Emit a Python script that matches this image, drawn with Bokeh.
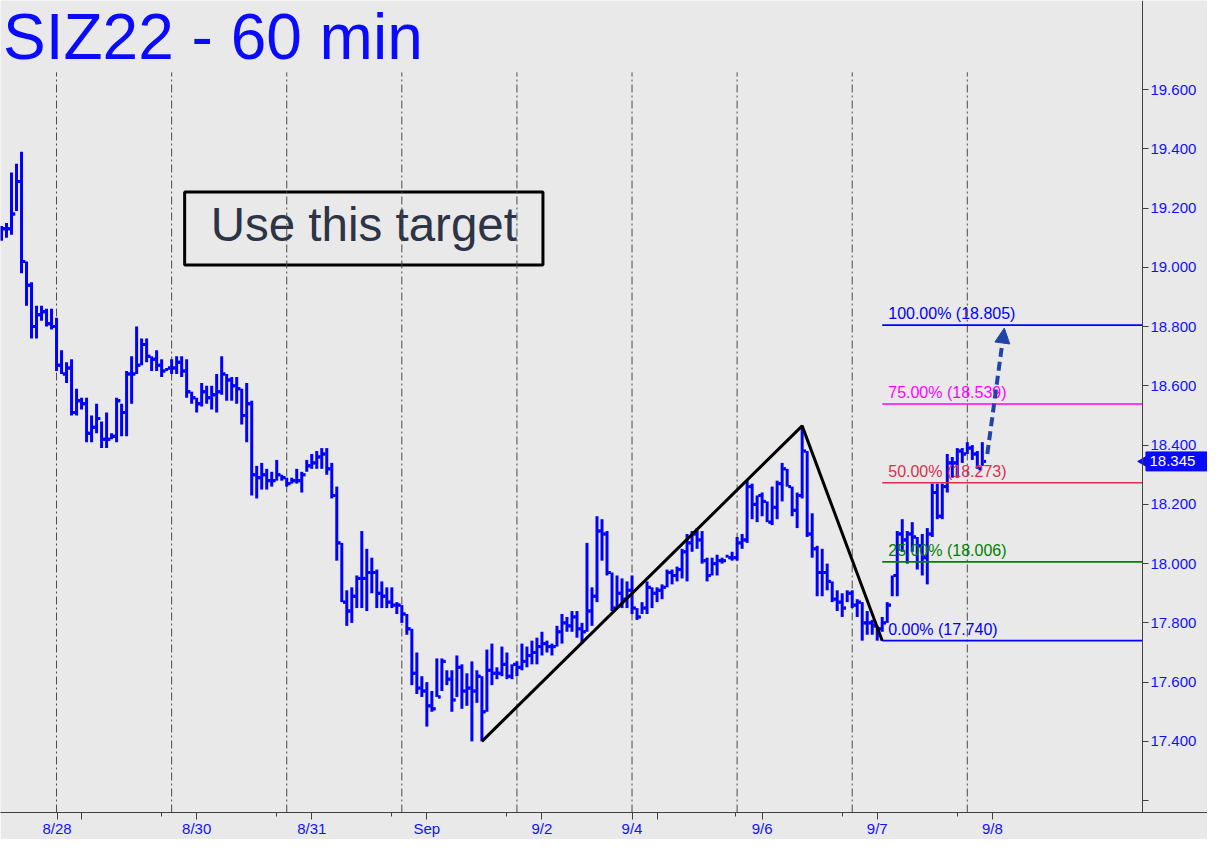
import math
from bokeh.plotting import figure
from bokeh.models import (Range1d, FixedTicker, Label, Arrow, NormalHead, BoxAnnotation,
                          NumeralTickFormatter, LinearAxis)
from bokeh.core.properties import value
from bokeh.embed import file_html
from bokeh.resources import INLINE

# ---------------- data ----------------
highs = [19.14, 19.15, 19.32, 19.35, 19.39, 19.02, 18.95, 18.87, 18.87, 18.86,
         18.86, 18.83, 18.72, 18.68, 18.69, 18.59, 18.56, 18.56, 18.50, 18.54,
         18.48, 18.51, 18.44, 18.56, 18.54, 18.65, 18.70, 18.80, 18.76, 18.76,
         18.70, 18.72, 18.69, 18.66, 18.69, 18.70, 18.70, 18.69, 18.58, 18.56,
         18.61, 18.60, 18.60, 18.64, 18.70, 18.64, 18.63, 18.63, 18.59, 18.61,
         18.55, 18.33, 18.34, 18.32, 18.31, 18.35, 18.30, 18.29, 18.29, 18.32,
         18.31, 18.35, 18.37, 18.38, 18.39, 18.39, 18.34, 18.26, 18.07, 17.91,
         17.92, 17.96, 18.11, 18.05, 18.02, 17.98, 17.94, 17.92, 17.92, 17.87,
         17.86, 17.83, 17.78, 17.70, 17.62, 17.60, 17.57, 17.68, 17.68, 17.64,
         17.64, 17.69, 17.66, 17.63, 17.67, 17.64, 17.62, 17.71, 17.73, 17.65,
         17.72, 17.70, 17.66, 17.67, 17.73, 17.72, 17.74, 17.75, 17.77, 17.74,
         17.73, 17.79, 17.83, 17.82, 17.84, 17.84, 17.80, 18.07, 17.92, 18.16,
         18.15, 18.11, 17.97, 17.96, 17.95, 17.94, 17.96, 17.85, 17.87, 17.94,
         17.92, 17.92, 17.93, 17.98, 17.98, 17.99, 18.05, 18.10, 18.11, 18.12,
         18.11, 18.02, 18.02, 18.03, 18.02, 18.03, 18.04, 18.09, 18.10, 18.28,
         18.27, 18.23, 18.24, 18.21, 18.26, 18.28, 18.34, 18.32, 18.26, 18.24,
         18.46, 18.38, 18.17, 18.06, 18.05, 18.00, 17.94, 17.91, 17.90, 17.91,
         17.91, 17.88, 17.87, 17.84, 17.81, 17.79, 17.82, 17.87, 17.96, 18.11,
         18.15, 18.11, 18.14, 18.09, 18.10, 18.12, 18.27, 18.27, 18.27, 18.37,
         18.36, 18.39, 18.39, 18.41, 18.40, 18.38, 18.41]
lows = [19.09, 19.10, 19.11, 19.19, 18.98, 18.87, 18.76, 18.76, 18.82, 18.80,
        18.79, 18.65, 18.64, 18.61, 18.50, 18.50, 18.52, 18.41, 18.41, 18.44,
        18.39, 18.39, 18.42, 18.41, 18.43, 18.43, 18.54, 18.64, 18.67, 18.68,
        18.65, 18.65, 18.63, 18.65, 18.64, 18.64, 18.63, 18.56, 18.54, 18.51,
        18.53, 18.54, 18.52, 18.51, 18.57, 18.55, 18.55, 18.54, 18.47, 18.41,
        18.23, 18.22, 18.25, 18.25, 18.26, 18.28, 18.28, 18.26, 18.27, 18.27,
        18.24, 18.31, 18.32, 18.32, 18.32, 18.30, 18.22, 18.01, 17.87, 17.79,
        17.80, 17.85, 17.85, 17.84, 17.90, 17.85, 17.85, 17.85, 17.85, 17.83,
        17.80, 17.76, 17.59, 17.56, 17.55, 17.45, 17.50, 17.55, 17.57, 17.59,
        17.50, 17.55, 17.51, 17.52, 17.40, 17.53, 17.40, 17.50, 17.59, 17.61,
        17.62, 17.61, 17.61, 17.62, 17.64, 17.65, 17.66, 17.66, 17.69, 17.70,
        17.69, 17.72, 17.73, 17.77, 17.77, 17.75, 17.73, 17.77, 17.79, 17.87,
        18.01, 17.96, 17.84, 17.85, 17.85, 17.85, 17.83, 17.81, 17.83, 17.83,
        17.85, 17.87, 17.88, 17.92, 17.93, 17.94, 17.95, 17.94, 18.04, 18.05,
        18.00, 17.94, 17.96, 17.96, 18.00, 18.02, 18.01, 18.01, 18.05, 18.07,
        18.15, 18.14, 18.16, 18.14, 18.13, 18.15, 18.21, 18.26, 18.16, 18.12,
        18.22, 18.09, 18.02, 17.89, 17.89, 17.91, 17.87, 17.84, 17.82, 17.87,
        17.85, 17.82, 17.74, 17.76, 17.76, 17.74, 17.77, 17.80, 17.89, 17.89,
        18.04, 18.00, 18.04, 17.98, 17.96, 17.93, 18.09, 18.15, 18.15, 18.24,
        18.29, 18.29, 18.34, 18.37, 18.35, 18.32, 18.33]
closes = [19.13, 19.13, 19.18, 19.29, 19.02, 18.94, 18.80, 18.84, 18.85, 18.81,
          18.80, 18.67, 18.64, 18.66, 18.51, 18.55, 18.54, 18.44, 18.46, 18.49,
          18.42, 18.42, 18.43, 18.55, 18.51, 18.64, 18.64, 18.67, 18.74, 18.70,
          18.69, 18.67, 18.65, 18.66, 18.66, 18.68, 18.65, 18.58, 18.56, 18.54,
          18.58, 18.56, 18.57, 18.58, 18.64, 18.62, 18.60, 18.59, 18.50, 18.54,
          18.30, 18.29, 18.30, 18.28, 18.28, 18.30, 18.29, 18.27, 18.28, 18.28,
          18.30, 18.33, 18.34, 18.36, 18.37, 18.32, 18.23, 18.07, 17.87, 17.84,
          17.89, 17.95, 17.95, 17.97, 17.97, 17.90, 17.89, 17.87, 17.86, 17.86,
          17.83, 17.78, 17.63, 17.58, 17.57, 17.52, 17.51, 17.55, 17.67, 17.61,
          17.54, 17.65, 17.57, 17.58, 17.57, 17.62, 17.50, 17.64, 17.63, 17.63,
          17.66, 17.62, 17.66, 17.65, 17.67, 17.69, 17.70, 17.72, 17.73, 17.72,
          17.72, 17.77, 17.80, 17.79, 17.82, 17.78, 17.77, 17.84, 17.89, 18.11,
          18.10, 17.97, 17.85, 17.90, 17.88, 17.91, 17.85, 17.82, 17.85, 17.92,
          17.90, 17.91, 17.92, 17.97, 17.96, 17.98, 18.04, 18.07, 18.10, 18.08,
          18.01, 17.96, 18.00, 18.01, 18.01, 18.02, 18.02, 18.07, 18.08, 18.26,
          18.20, 18.23, 18.21, 18.14, 18.19, 18.27, 18.32, 18.26, 18.18, 18.23,
          18.38, 18.10, 18.05, 17.97, 17.97, 17.94, 17.88, 17.87, 17.85, 17.90,
          17.86, 17.87, 17.80, 17.80, 17.79, 17.78, 17.80, 17.86, 17.96, 18.10,
          18.08, 18.10, 18.09, 18.06, 18.02, 18.10, 18.24, 18.16, 18.26, 18.34,
          18.34, 18.38, 18.37, 18.39, 18.37, 18.32, 18.345]
opens = [closes[0]] + closes[:-1]
bar_index = list(range(len(closes)))

session_starts = [11, 34, 57, 80, 103, 126, 147, 170, 193]
date_ticks = [11.1, 16, 39, 62, 85, 108, 126, 131, 152, 175, 198]
date_labels = ["8/28", "", "8/30", "8/31", "Sep", "9/2", "9/4", "", "9/6", "9/7", "9/8"]
minor_date_ticks = [32, 55, 78, 101, 146.6, 168, 191]
price_ticks = [17.2, 17.4, 17.6, 17.8, 18.0, 18.2, 18.4, 18.6, 18.8, 19.0, 19.2, 19.4, 19.6]

zigzag_x = [96, 160, 176]
zigzag_y = [17.40, 18.465, 17.74]
fib_names = ["0.00%", "25.00%", "50.00%", "75.00%", "100.00%"]
fib_levels = [17.740, 18.006, 18.273, 18.539, 18.805]
fib_colors = ["#0000ff", "#008000", "#d8304e", "#ff00ff", "#0000ff"]
last_price = 18.345
arrow_start = (197, 18.37)
arrow_end = (200.4, 18.795)

# ---------------- styling / layout constants ----------------
BG = "#e9e9e9"
BAR = "#0000ff"
AXIS_TXT = "#1010ff"
MARK = "#0a0aff"
FONT = "Liberation Sans"

W, H = 1207, 839
BORDER_B = 25
AXIS_X = 228.0             # price axis sits here (bar-index units)

x_lo, x_hi = -0.2, 241.0
y_lo, y_hi = 17.16, 19.9007

p = figure(width=W, height=H, output_backend="svg", toolbar_location=None,
           x_range=Range1d(x_lo, x_hi), y_range=Range1d(y_lo, y_hi),
           y_axis_location=None, min_border_left=0, min_border_top=0,
           min_border_right=0, min_border_bottom=BORDER_B)
p.background_fill_color = BG
p.border_fill_color = BG
p.outline_line_color = None
p.xgrid.visible = False
p.ygrid.visible = False

# session separators
p.segment(x0=session_starts, x1=session_starts, y0=[y_lo] * len(session_starts),
          y1=[19.658] * len(session_starts), line_color="#4a4a4a", line_width=1,
          line_dash="8 3 2 3")

# "Use this target" box
p.add_layout(BoxAnnotation(left=36.6, right=108.2, bottom=19.008, top=19.254,
                           fill_color=None, fill_alpha=0, line_color="black",
                           line_alpha=1.0, line_width=3, level="underlay"))
p.add_layout(Label(x=41.8, y=19.054, text="Use this target", text_font=FONT,
                   text_font_size="47.5px", text_color="#2c3446",
                   text_baseline="bottom", level="underlay"))

# OHLC bars
p.segment(x0=bar_index, x1=bar_index, y0=lows, y1=highs, line_color=BAR, line_width=3)
p.segment(x0=[i - 0.75 for i in bar_index], x1=[i - 0.3 for i in bar_index], y0=opens, y1=opens,
          line_color=BAR, line_width=3)
p.segment(x0=[i + 0.3 for i in bar_index], x1=[i + 0.75 for i in bar_index], y0=closes, y1=closes,
          line_color=BAR, line_width=3)

# zigzag
p.line(zigzag_x, zigzag_y, line_color="black", line_width=3)

# fib levels
fib_start = zigzag_x[-1]
p.segment(x0=[fib_start] * 5, x1=[AXIS_X] * 5, y0=fib_levels, y1=fib_levels,
          line_color=fib_colors, line_width=1.6)
for name, lev, col in zip(fib_names, fib_levels, fib_colors):
    p.add_layout(Label(x=fib_start, y=lev + 0.01, x_offset=6, text=f"{name} ({lev:.3f})",
                       text_font=FONT, text_font_size="16px", text_color=col,
                       text_baseline="bottom"))

# projection arrow
ac = "#2244aa"
p.add_layout(Arrow(end=NormalHead(size=15, fill_color=ac, line_color=ac),
                   x_start=arrow_start[0], y_start=arrow_start[1],
                   x_end=arrow_end[0], y_end=arrow_end[1],
                   line_color=ac, line_width=4, line_dash="9 5"))

# title
p.add_layout(Label(x=0.3, y=19.6556, text="SIZ22 - 60 min", text_font=FONT,
                   text_font_size="64px", text_color="#0a0aff", text_baseline="bottom"))

# price axis on the right (fixed at AXIS_X so the area right of it stays drawable)
ya = LinearAxis(fixed_location=AXIS_X)
ya.ticker = FixedTicker(ticks=price_ticks)
ya.formatter = NumeralTickFormatter(format="0.000")
ya.major_label_overrides = {17.2: ""}
ya.axis_line_color = "#404040"
ya.major_tick_line_color = "#404040"
ya.major_tick_out = 6
ya.major_tick_in = 0
ya.minor_tick_line_color = None
ya.major_label_standoff = 2
ya.major_label_text_color = AXIS_TXT
ya.major_label_text_font = FONT
ya.major_label_text_font_size = "15px"
p.add_layout(ya, "right")

# last price marker: pointer + box + text
p.scatter(x=[AXIS_X + 0.55], y=[last_price], marker="triangle", size=13,
          angle=math.pi / 2, fill_color=MARK, line_color=MARK)
p.quad(left=[AXIS_X + 0.7], right=[x_hi], bottom=[last_price - 0.032],
       top=[last_price + 0.032], fill_color=MARK, line_color=MARK)
p.text(x=[AXIS_X + 1.4], y=[last_price], text=[f"{last_price:.3f}"], text_color="white",
       text_font=value(FONT), text_font_size="15px", text_baseline="middle")

# time axis
xa = p.xaxis[0]
xa.ticker = FixedTicker(ticks=date_ticks, minor_ticks=minor_date_ticks)
xa.major_label_overrides = {t: lab for t, lab in zip(date_ticks, date_labels)}
xa.axis_line_color = "#404040"
xa.major_tick_line_color = "#404040"
xa.minor_tick_line_color = "#404040"
xa.major_tick_out = 7
xa.major_tick_in = 0
xa.minor_tick_out = 4
xa.minor_tick_in = 0
xa.major_label_standoff = 0
xa.major_label_text_color = AXIS_TXT
xa.major_label_text_font = FONT
xa.major_label_text_font_size = "15px"

open("out.html", "w").write(file_html(p, INLINE))
